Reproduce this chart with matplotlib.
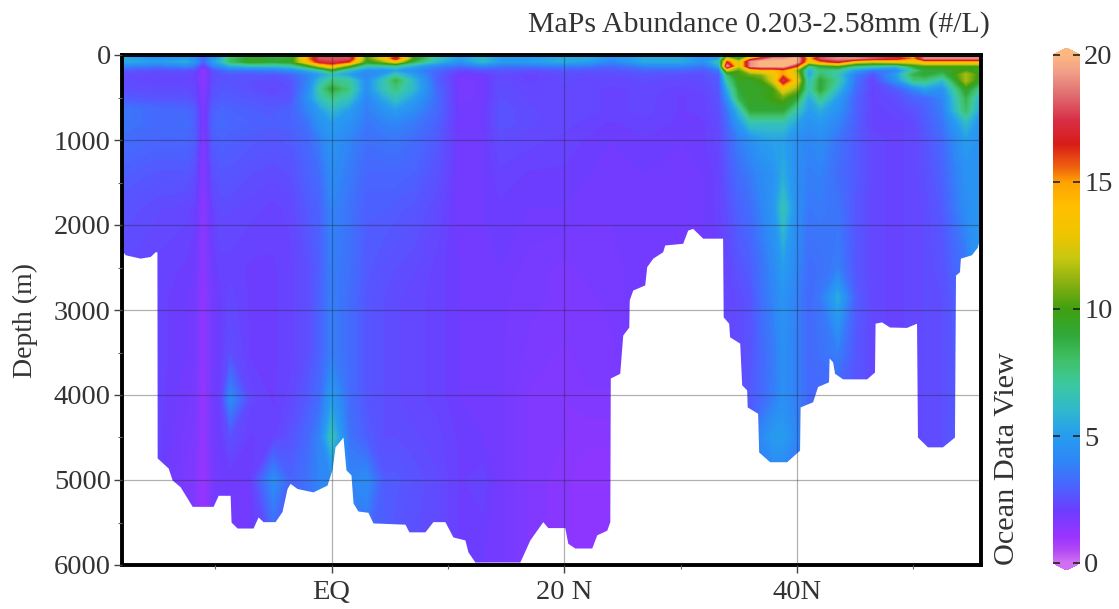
import numpy as np
import matplotlib
matplotlib.use("Agg")
import matplotlib.pyplot as plt
from matplotlib.colors import LinearSegmentedColormap, Normalize
from matplotlib.cm import ScalarMappable

plt.rcParams['font.family'] = ['Liberation Serif', 'DejaVu Serif']

title = 'MaPs Abundance 0.203-2.58mm (#/L)'
watermark = 'Ocean Data View'

depths = [0, 40, 80, 130, 180, 230, 300, 400, 500, 650, 800, 1000, 1400, 1800, 2500, 2850, 3500, 4050, 4500, 5000, 6000]

# one profile per latitude (#/L), same order as depths
lats = [-18, -15, -12.5, -11.8, -11, -10.2, -9.5, -8.7, -7, -5, -3.5, -2, -1, 0, 1.5, 3, 4.5, 5.5, 7, 9, 11, 13, 14.5, 17, 20, 22, 24,
        27, 30, 32, 33.3, 34, 35, 36, 37, 38, 38.8, 40, 41, 42, 43.5, 45, 46.5, 48.5, 50, 51, 52.5, 54.5, 55.8]
profiles = [
    [4.5, 5.5, 5.5, 4, 2.8, 2.4, 2.4, 2.5, 2.8, 3.6, 3.6, 3.3, 2.9, 2.6, 2.4, 2.4, 2.4, 2.4, 2.4, 2.4, 2.4],
    [3.5, 4.5, 5, 3.5, 2.5, 2.3, 2.3, 2.4, 2.6, 3.2, 3.2, 3.1, 2.7, 2.4, 2.2, 2.2, 2.2, 2.2, 2.2, 2.2, 2.2],
    [4, 5, 5.5, 4, 2.6, 2.3, 2.3, 2.4, 2.6, 3.1, 3.3, 3.1, 2.7, 2.3, 2.1, 2, 2, 1.9, 1.8, 1.7, 1.7],
    [4, 4.5, 4.8, 3.5, 2.4, 2.2, 2.2, 2.3, 2.4, 2.9, 3, 2.9, 2.5, 2.2, 2, 1.9, 1.9, 1.8, 1.7, 1.6, 1.6],
    [3, 3, 3, 1.8, 1.3, 1.3, 1.3, 1.4, 1.5, 1.6, 1.6, 1.5, 1.4, 1.3, 1.3, 1.2, 1.2, 1.1, 1.1, 1, 1],
    [3.8, 4.5, 5, 3.8, 2.5, 2.4, 2.4, 2.5, 2.6, 2.9, 3, 2.8, 2.5, 2.2, 2, 1.9, 1.9, 1.9, 1.9, 1.8, 1.8],
    [4, 5.5, 6, 4.5, 3, 2.6, 2.6, 2.7, 2.8, 3.1, 3.2, 3, 2.7, 2.4, 2.2, 2.1, 2.1, 2.2, 2.1, 2, 2],
    [6.5, 8, 8, 5.5, 3.5, 2.7, 2.6, 2.7, 2.8, 3, 3.1, 2.9, 2.7, 2.4, 2.2, 2.3, 2.5, 4.2, 2.5, 2, 2],
    [8, 9.5, 9.5, 6, 3.5, 2.7, 2.5, 2.5, 2.7, 2.9, 3, 2.8, 2.5, 2.3, 2.1, 2.1, 2.1, 2.3, 2.1, 2, 2],
    [7, 9, 9, 6, 3.8, 2.6, 2.4, 2.3, 2.5, 2.8, 2.9, 2.7, 2.4, 2.2, 2.1, 2.1, 2.1, 2.1, 2.2, 4.3, 2.4],
    [8, 9, 9.5, 6.5, 4.2, 3, 2.6, 2.5, 2.6, 3, 3, 2.8, 2.5, 2.3, 2.2, 2.2, 2.2, 2.3, 2.6, 3, 3],
    [14, 15, 14, 9, 5.5, 4, 4, 4.2, 4.5, 4, 3.5, 3.2, 3, 2.8, 2.5, 2.5, 2.5, 2.8, 3.2, 3.5, 3],
    [17, 18, 17, 12, 6.5, 5, 6, 7, 6.5, 5, 4.5, 3.8, 3.3, 3, 2.9, 3, 3, 3.3, 4, 4, 3.5],
    [17, 18, 17.5, 14, 9, 6, 7.5, 9, 7.5, 6, 5, 4.6, 4.3, 4, 3.8, 3.8, 3.8, 5, 6.5, 4.2, 4],
    [17, 18, 16, 10, 6, 5, 7, 7.5, 6.5, 5, 4.5, 4, 3.7, 3.5, 3.4, 3.3, 3.3, 3.3, 3.5, 4, 3.5],
    [9, 10, 9.5, 6.5, 4.5, 4, 4.3, 4.3, 4, 3.8, 3.6, 3.4, 3.1, 2.9, 2.8, 2.7, 2.7, 2.7, 2.9, 4.3, 3],
    [12, 13, 11, 6.5, 4.5, 5, 6.5, 6.5, 5.5, 4.5, 3.9, 3.5, 3.1, 2.9, 2.6, 2.5, 2.5, 2.5, 2.5, 2.8, 3],
    [15, 17, 13, 7, 5, 6.5, 8.5, 7.5, 6.5, 5, 4, 3.6, 3.1, 2.8, 2.5, 2.4, 2.4, 2.4, 2.5, 2.8, 2.6],
    [9, 10, 8.5, 5.5, 4.3, 5, 6, 6, 5.2, 4.3, 3.7, 3.3, 3, 2.7, 2.4, 2.3, 2.3, 2.3, 2.4, 2.6, 2.5],
    [6, 6.5, 6, 4, 3.2, 3, 3, 3.2, 3.3, 3.2, 3, 2.8, 2.6, 2.4, 2.2, 2.2, 2.2, 2.2, 2.3, 2.4, 2.4],
    [4.5, 5, 4.5, 3.3, 2.3, 1.9, 1.8, 1.8, 1.8, 1.9, 1.9, 1.9, 1.9, 1.9, 2, 2, 2, 2, 2.1, 2.1, 2.1],
    [5, 6, 6, 4, 2.5, 2, 1.9, 1.9, 1.9, 2, 2, 2, 2, 2, 2, 2, 2, 2, 2, 2.2, 2],
    [3.5, 5, 5, 3.5, 2.7, 2.4, 2.4, 2.5, 2.5, 2.6, 2.6, 2.4, 2.2, 2.1, 2, 1.9, 1.9, 1.9, 1.9, 1.9, 1.9],
    [4.5, 5, 5, 3.5, 2.5, 2.2, 2.2, 2.3, 2.3, 2.4, 2.4, 2.3, 2.1, 2, 1.8, 1.8, 1.7, 1.6, 1.6, 1.6, 1.6],
    [5, 5.5, 5.5, 3.8, 2.7, 2.4, 2.4, 2.3, 2.3, 2.3, 2.3, 2.2, 2.1, 2, 1.7, 1.7, 1.6, 1.5, 1.5, 1.4, 1.4],
    [4.5, 5.5, 5, 3.5, 2.6, 2.4, 2.3, 2.3, 2.3, 2.3, 2.2, 2.1, 2, 1.9, 1.8, 1.7, 1.7, 1.6, 1.4, 1.3, 1.3],
    [4, 4.5, 4, 3.2, 2.6, 2.4, 2.3, 2.2, 2.2, 2.2, 2.1, 2, 2, 1.9, 1.8, 1.8, 1.7, 1.6, 1.4, 1.3, 1.3],
    [5, 5.5, 5.5, 4, 3, 2.6, 2.4, 2.3, 2.3, 2.3, 2.2, 2.1, 2, 2, 2, 2, 2, 2, 2, 2, 2],
    [4.5, 5.5, 5.5, 4, 3, 2.5, 2.3, 2.2, 2.1, 2.1, 2.1, 2, 2, 2, 2, 2, 2, 2, 2, 2, 2],
    [4, 4.5, 4.5, 3.5, 2.8, 2.5, 2.4, 2.3, 2.2, 2.2, 2.1, 2.1, 2, 2, 2, 2, 2, 2, 2, 2, 2],
    [4.5, 5, 6.5, 5.5, 3.6, 3, 2.8, 2.7, 2.6, 2.5, 2.4, 2.3, 2.2, 2.2, 2.1, 2.1, 2.1, 2.1, 2.1, 2.1, 2.1],
    [8, 12, 16, 19, 12, 8, 7, 5.5, 4.5, 3.5, 3.2, 2.9, 2.7, 2.5, 2.3, 2.3, 2.3, 2.3, 2.3, 2.3, 2.3],
    [7, 9, 12, 12, 10, 10, 9.5, 9, 8.5, 6, 4.8, 3.8, 3.3, 3, 2.6, 2.4, 2.4, 2.4, 2.4, 2.4, 2.4],
    [9, 14, 19, 19, 13, 10.5, 9.5, 9.5, 9.5, 9, 6.5, 4.4, 3.7, 3.3, 2.9, 2.6, 2.6, 2.8, 2.8, 2.8, 2.6],
    [12, 17, 20, 20, 14, 11, 10, 9.5, 9.5, 9, 6.5, 5, 4.2, 4, 3.5, 3.4, 3.2, 3.2, 4.2, 3.6, 3.4],
    [15, 19, 20, 20, 14, 13, 12.5, 10, 10, 9, 6.5, 5.2, 4.6, 4.8, 4.2, 4, 3.7, 3.8, 5, 3.8, 3.6],
    [15, 19, 20, 20, 15, 15, 17.5, 13, 10.5, 9, 6.5, 5.2, 5.5, 6.5, 5, 4.6, 4.4, 4.4, 5, 3.8, 3.6],
    [16, 20, 20, 16, 11, 12, 13, 11, 9, 6.5, 5.2, 4.4, 4.3, 4.3, 4, 3.8, 3.8, 3.8, 4, 3.8, 3.8],
    [13, 14, 13, 7, 5.5, 5, 6, 6.5, 5.5, 5, 4.5, 4, 3.8, 3.6, 3.3, 3.2, 3.2, 3.2, 3, 3, 3],
    [15, 18, 15, 9, 7.5, 8, 9, 9, 7.5, 5.5, 4.8, 4.3, 3.9, 3.7, 3.4, 3.6, 3.4, 3.2, 3, 3, 3],
    [17, 19, 17, 10, 7, 6.5, 7, 6, 5, 4.5, 4, 3.5, 3.3, 3.5, 3.8, 5.5, 3.8, 3, 3, 3, 3],
    [17, 19, 13, 7.5, 5, 3.8, 3.5, 3.3, 3, 3, 2.9, 2.8, 2.8, 2.7, 2.7, 2.9, 2.7, 2.7, 2.7, 2.7, 2.7],
    [18, 18, 12, 7, 3.5, 2.5, 2.2, 2.2, 2.2, 2.2, 2.2, 2.3, 2.3, 2.3, 2.3, 2.3, 2.3, 2.3, 2.3, 2.3, 2.3],
    [15, 17, 13, 6, 4, 5, 4.5, 2.8, 2.5, 2.3, 2.2, 2.2, 2.2, 2.2, 2.2, 2.2, 2.2, 2.2, 2.2, 2.2, 2.2],
    [14, 15, 13, 9, 7, 8.5, 7.5, 4, 3, 2.6, 2.3, 2.3, 2.3, 2.3, 2.3, 2.3, 2.3, 2.3, 2.3, 2.3, 2.3],
    [17, 19, 14, 10, 9, 9, 7.5, 5, 3.2, 2.9, 2.8, 2.6, 2.5, 2.4, 2.4, 2.4, 2.4, 2.4, 2.4, 2.4, 2.4],
    [18, 19, 14, 10, 9, 8, 6, 4.5, 4, 3.8, 3.5, 3.2, 3, 2.8, 2.6, 2.5, 2.5, 2.5, 2.5, 2.5, 2.5],
    [17, 19, 14, 10, 10, 11.5, 11.5, 9.5, 8.5, 8, 6, 5, 4.5, 4.3, 3.5, 3.2, 3, 3, 3, 3, 3],
    [17, 19, 14, 10, 9, 9.5, 9, 7, 5.5, 5, 4.5, 4.5, 4.6, 4.8, 5, 5, 5, 5, 5, 5, 5],
]

# sea floor outline
floor_lat = [-18, -17.73, -16.44, -15.58, -15.15, -15, -14.98, -14.03, -13.69, -13, -11.97, -10.17, -9.74, -8.71, -8.63,
             -8.11, -6.74, -6.31, -5.88, -4.85, -4.25, -3.82, -3.56, -2.96, -1.59, -0.39, 0.04, 0.3, 0.99, 1.24, 1.67,
             1.85, 2.27, 3.13, 3.56, 6.31, 6.65, 8.03, 8.71, 9.74, 10.43, 11.46, 11.72, 12.32, 16.18, 17.04, 18.15, 18.58,
             20.04, 20.3, 20.9, 22.36, 22.79, 23.65, 23.91, 23.95, 24.76, 25.02, 25.54, 25.58, 25.88, 26.91, 27.08, 27.6,
             28.45, 28.63, 30.17, 30.6, 31.03, 31.89, 33.6, 33.65, 34.12, 34.2, 35.07, 35.24, 35.67, 35.71, 36.61, 36.7,
             37.64, 39.1, 40.21, 40.26, 41.33, 41.76, 42.7, 42.75, 43.05, 43.22, 43.91, 45.97, 46.65, 46.7, 47.25, 47.94,
             49.4, 50.26, 50.34, 51.2, 52.49, 53.52, 53.61, 53.95, 54.03, 54.98, 55.49, 55.8]
floor_depth = [2300, 2350, 2390, 2370, 2315, 2315, 4740, 4860, 5000, 5080, 5310, 5310, 5180, 5180, 5495,
               5565, 5565, 5435, 5490, 5490, 5370, 5100, 5040, 5100, 5140, 5060, 4880, 4610, 4495, 4880, 4940,
               5270, 5365, 5380, 5505, 5520, 5610, 5610, 5490, 5490, 5670, 5705, 5845, 5965, 5965, 5705, 5490, 5560,
               5560, 5745, 5800, 5800, 5645, 5590, 5490, 3800, 3745, 3295, 3200, 2880, 2765, 2705, 2490, 2390,
               2315, 2235, 2215, 2060, 2040, 2155, 2155, 3080, 3155, 3315, 3390, 3880, 3940, 4140, 4215, 4670,
               4785, 4785, 4650, 4140, 4080, 3900, 3845, 3565, 3610, 3745, 3810, 3810, 3730, 3155, 3140, 3200,
               3205, 3155, 4495, 4610, 4610, 4495, 2590, 2550, 2390, 2350, 2260, 2080]

# colour bar, value / colour pairs
cbar_values = [0, 0.5, 1, 2, 3, 4, 5, 6, 7, 8, 9, 10, 11, 12, 13, 14, 15, 15.6, 16.5, 17.5, 18.5, 19.3, 20]
cbar_colors = ['#d070f0', '#b048f4', '#9a34ff', '#6e3cff', '#4a62ff', '#2f86f6', '#269cf0', '#30b8cc', '#3cc8a0',
               '#40c068', '#30a838', '#40a010', '#88b010', '#c8c810', '#f0c400', '#ffc000', '#ffa200', '#ee6010',
               '#d81c18', '#d83048', '#e07070', '#f09c88', '#fcb880']
cbar_ticks = [0, 5, 10, 15, 20]

x_ticks = [0, 20, 40]
x_labels = ['EQ', '20 N', '40N']
x_minor = [-10, 10, 30, 50]
y_ticks = [0, 1000, 2000, 3000, 4000, 5000, 6000]
y_minor = [500, 1500, 2500, 3500, 4500, 5500]

W, H = 1119, 609
text_col = '#333333'
fig = plt.figure(figsize=(W / 100, H / 100), dpi=100)
ax = fig.add_axes([122 / W, 1 - 565 / H, (981 - 122) / W, (565 - 55) / H])

node_pos = [v / 20 for v in cbar_values]
cmap = LinearSegmentedColormap.from_list('odv', list(zip(node_pos, cbar_colors)), N=512)
cmap.set_under(cbar_colors[0])
cmap.set_over(cbar_colors[-1])
norm = Normalize(0, 20)

vals = np.array(profiles).T
ax.contourf(lats, depths, vals, levels=np.linspace(0, 20, 161), cmap=cmap, norm=norm, extend='both', zorder=1)
ax.fill_between(floor_lat, floor_depth, 6000, color='white', lw=0, zorder=2)

ax.set_xlim(-18, 55.8)
ax.set_ylim(6000, 0)

ax.set_xticks(x_ticks)
ax.set_xticklabels(x_labels)
ax.set_xticks(x_minor, minor=True)
ax.set_yticks(y_ticks)
ax.set_yticks(y_minor, minor=True)
ax.grid(True, which='major', color='#222222', alpha=0.35, lw=0.9, zorder=3)
ax.set_axisbelow(False)
ax.tick_params(which='major', length=6, width=1, color='#444444', labelsize=20.5, labelcolor=text_col, pad=2)
ax.tick_params(which='minor', length=3, width=0.8, color='#666666')
ax.tick_params(axis='x', which='major', pad=5)
for s in ax.spines.values():
    s.set_linewidth(2.8)
    s.set_color('black')

fig.text(25 / W, 1 - 321 / H, 'Depth (m)', rotation=90, ha='center', va='center', fontsize=20, color=text_col)
fig.text(990 / W, 1 - 25 / H, title, ha='right', va='center', fontsize=21.5, color=text_col)
fig.text(1007 / W, 1 - 565 / H, watermark, rotation=90, ha='center', va='bottom', fontsize=21.8, color=text_col)

# extend triangles sit inside the axes box, so the box is 7 px taller at each end
cax = fig.add_axes([1053 / W, 1 - 570 / H, 27 / W, (570 - 48) / H])
cb = fig.colorbar(ScalarMappable(norm=norm, cmap=cmap), cax=cax, extend='both', extendfrac=7 / 508, drawedges=False)
cb.outline.set_visible(False)
cb.set_ticks(cbar_ticks)
cax.tick_params(axis='y', which='major', direction='in', left=True, right=True, length=5, width=1.2, color='#222222',
                labelsize=20.5, labelcolor=text_col, pad=3)
cb.minorticks_off()

fig.savefig('out.png', dpi=100)
